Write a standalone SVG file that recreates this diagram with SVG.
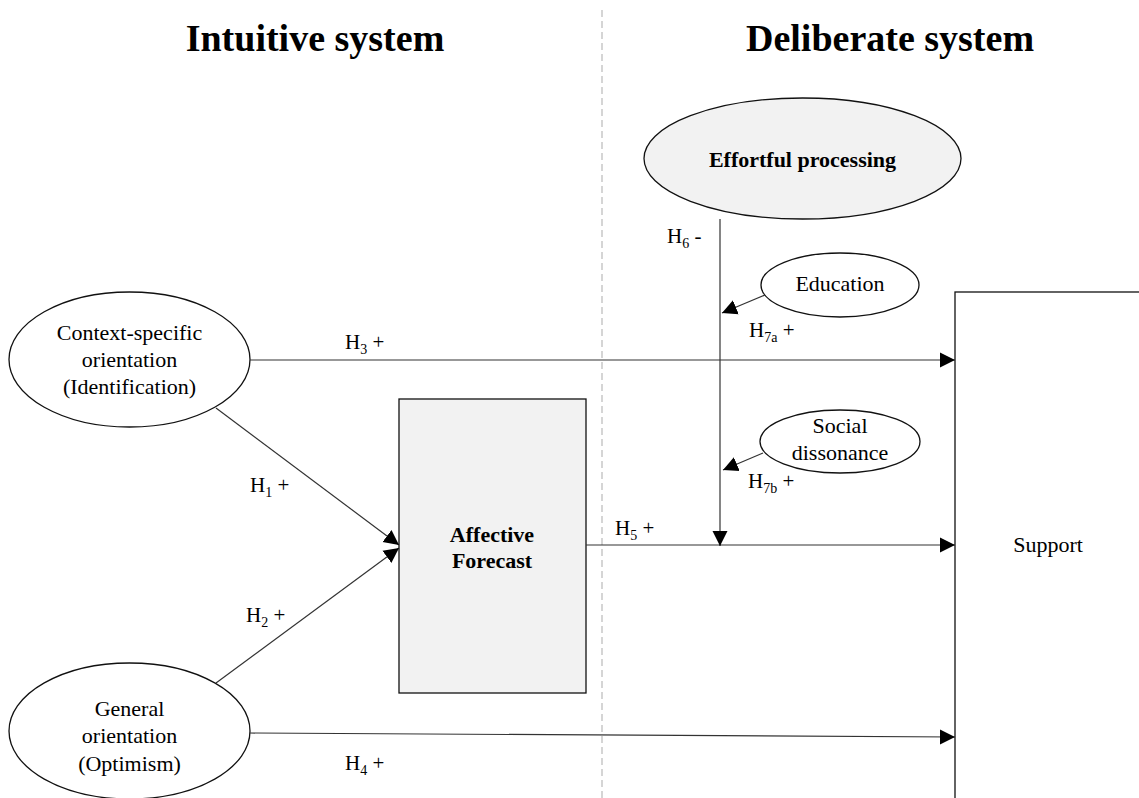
<svg xmlns="http://www.w3.org/2000/svg" width="1139" height="798" viewBox="0 0 1139 798">
<style>
.t{font-family:"Liberation Serif","Times New Roman",serif;fill:#000;}
.n{font-size:22px;text-anchor:middle;}
.b{font-weight:bold;}
.h{font-size:21px;}
.sub{font-size:14px;}
.title{font-size:38px;font-weight:bold;text-anchor:middle;}
.shape{stroke:#111;stroke-width:1.3;}
.c{stroke:#333;stroke-width:1.2;fill:none;}
</style>
<defs>
<marker id="ah" markerUnits="userSpaceOnUse" markerWidth="16" markerHeight="16" refX="15" refY="8" orient="auto">
<path d="M0,0.5 L15,8 L0,15.5 z" fill="#000"/>
</marker>
</defs>
<rect width="1139" height="798" fill="#fff"/>
<line x1="602" y1="10" x2="602" y2="798" stroke="#c8c8c8" stroke-width="1.5" stroke-dasharray="7,4"/>
<text class="t title" x="315" y="51">Intuitive system</text>
<text class="t title" x="890" y="51">Deliberate system</text>

<g id="support">
<rect class="shape" x="955" y="292" width="200" height="530" fill="#fff"/>
<text class="t n" x="1048" y="552">Support</text>
</g>
<g id="affective-forecast">
<rect class="shape" x="399" y="399" width="187" height="294" fill="#f2f2f2"/>
<text class="t n b" x="492" y="542">Affective</text>
<text class="t n b" x="492" y="568">Forecast</text>
</g>
<g id="context-specific">
<ellipse class="shape" cx="129.5" cy="359.5" rx="120.5" ry="67.5" fill="#fff"/>
<text class="t n" x="129.5" y="340">Context-specific</text>
<text class="t n" x="129.5" y="367">orientation</text>
<text class="t n" x="129.5" y="394">(Identification)</text>
</g>
<g id="general">
<ellipse class="shape" cx="129.5" cy="731" rx="120.5" ry="68" fill="#fff"/>
<text class="t n" x="129.5" y="716">General</text>
<text class="t n" x="129.5" y="743">orientation</text>
<text class="t n" x="129.5" y="771">(Optimism)</text>
</g>
<g id="effortful">
<ellipse class="shape" cx="802.5" cy="158.5" rx="158.5" ry="60.5" fill="#f2f2f2"/>
<text class="t n b" x="802.5" y="167">Effortful processing</text>
</g>
<g id="education">
<ellipse class="shape" cx="840" cy="285" rx="79" ry="32" fill="#fff"/>
<text class="t n" x="840" y="291">Education</text>
</g>
<g id="social-dissonance">
<ellipse class="shape" cx="840" cy="441.5" rx="80" ry="31.5" fill="#fff"/>
<text class="t n" x="840" y="433">Social</text>
<text class="t n" x="840" y="460">dissonance</text>
</g>

<g id="connectors">
<line class="c" x1="250" y1="360" x2="955" y2="360" marker-end="url(#ah)"/>
<line class="c" x1="216" y1="408" x2="399" y2="545" marker-end="url(#ah)"/>
<line class="c" x1="216" y1="683" x2="399" y2="548" marker-end="url(#ah)"/>
<line class="c" x1="586" y1="545" x2="955" y2="545" marker-end="url(#ah)"/>
<line class="c" x1="250" y1="733" x2="955" y2="737" marker-end="url(#ah)"/>
<line class="c" x1="720" y1="219" x2="720" y2="546" stroke="#555" marker-end="url(#ah)"/>
<line class="c" x1="765" y1="295" x2="722" y2="313" marker-end="url(#ah)"/>
<line class="c" x1="763" y1="453" x2="723" y2="470" marker-end="url(#ah)"/>
</g>

<g id="labels">
<text class="t h" x="345" y="349">H<tspan class="sub" dy="5">3</tspan><tspan dy="-5"> +</tspan></text>
<text class="t h" x="250" y="492">H<tspan class="sub" dy="5">1</tspan><tspan dy="-5"> +</tspan></text>
<text class="t h" x="246" y="622">H<tspan class="sub" dy="5">2</tspan><tspan dy="-5"> +</tspan></text>
<text class="t h" x="345" y="770">H<tspan class="sub" dy="5">4</tspan><tspan dy="-5"> +</tspan></text>
<text class="t h" x="615" y="535">H<tspan class="sub" dy="5">5</tspan><tspan dy="-5"> +</tspan></text>
<text class="t h" x="667" y="243">H<tspan class="sub" dy="5">6</tspan><tspan dy="-5"> -</tspan></text>
<text class="t h" x="749" y="337">H<tspan class="sub" dy="5">7a</tspan><tspan dy="-5"> +</tspan></text>
<text class="t h" x="748" y="488">H<tspan class="sub" dy="5">7b</tspan><tspan dy="-5"> +</tspan></text>
</g>
</svg>
